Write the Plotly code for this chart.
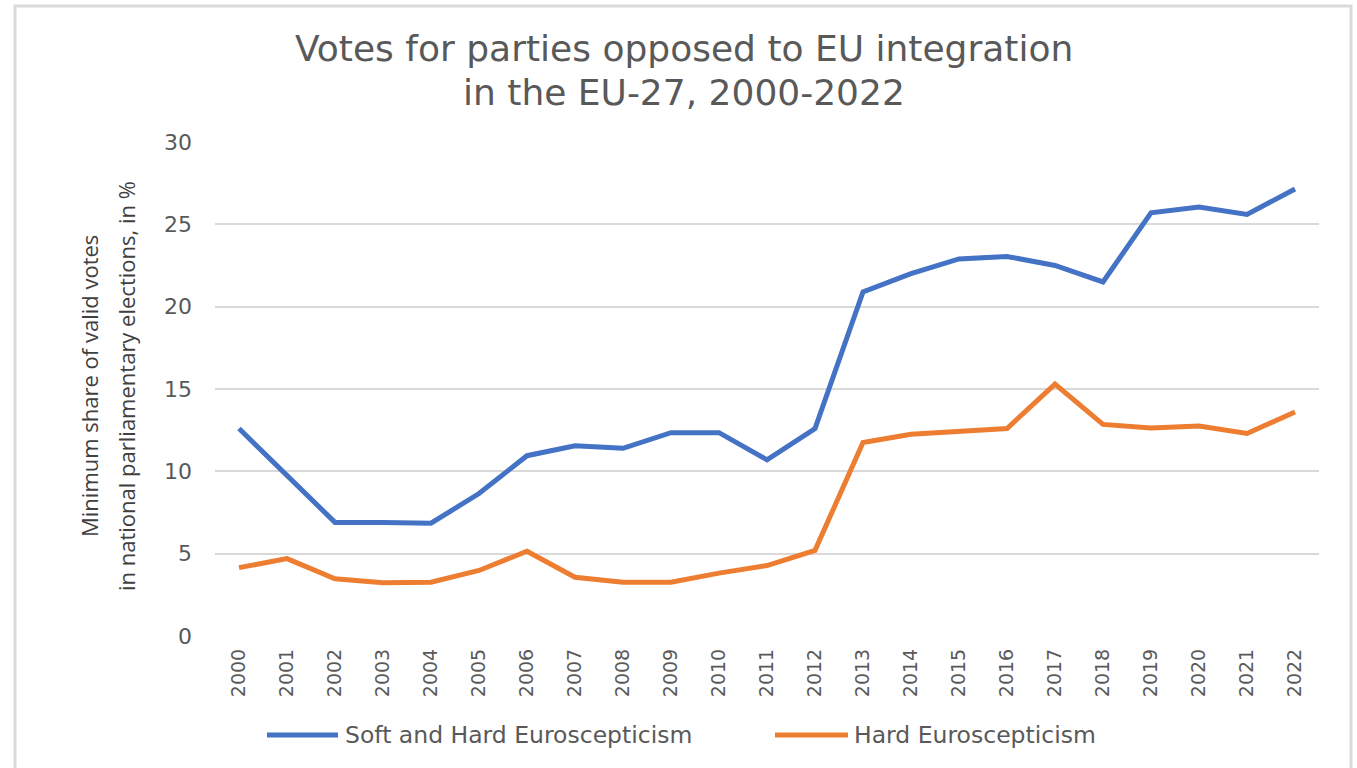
import plotly.graph_objects as go

# Data: minimum share of valid votes (%) for Eurosceptic parties, EU-27
years = [str(y) for y in range(2000, 2023)]
soft_and_hard = [12.6, 9.7, 6.9, 6.9, 6.85, 8.65, 10.95, 11.55, 11.4, 12.35, 12.35, 10.7,
                 12.6, 20.9, 22.0, 22.9, 23.05, 22.5, 21.5, 25.7, 26.05, 25.6, 27.15]
hard_only = [4.15, 4.7, 3.47, 3.23, 3.27, 3.98, 5.15, 3.57, 3.27, 3.27, 3.82, 4.28,
             5.2, 11.75, 12.25, 12.45, 12.6, 15.3, 12.85, 12.63, 12.75, 12.3, 13.6]
series_names = ["Soft and Hard Euroscepticism", "Hard Euroscepticism"]
title_lines = ["Votes for parties opposed to EU integration", "in the EU-27, 2000-2022"]
ytitle_lines = ["Minimum share of valid votes", "in national parliamentary elections, in %"]
y_ticks = [0, 5, 10, 15, 20, 25, 30]

BLUE = "#4472C4"
ORANGE = "#ED7D31"
TEXT = "#595959"
GRID = "#D9D9D9"
WIDE = "DejaVu Sans"
NARROW = "Open Sans"

W, H = 1357, 768
L, R, T, B = 215, 1319, 142, 636  # plot area in pixels


def px(x):
    return (x - L) / (R - L)


def py(y):
    return (B - y) / (B - T)


fig = go.Figure()
fig.add_trace(go.Scatter(x=years, y=soft_and_hard, mode="lines", name=series_names[0],
                         line=dict(color=BLUE, width=5)))
fig.add_trace(go.Scatter(x=years, y=hard_only, mode="lines", name=series_names[1],
                         line=dict(color=ORANGE, width=5)))

annotations = []
# chart title, one annotation per line
for text, ypix in zip(title_lines, [49, 92]):
    annotations.append(dict(text=text, x=px(684), y=py(ypix), xref="paper", yref="paper",
                            showarrow=False, xanchor="center", yanchor="middle",
                            font=dict(family=WIDE, size=36, color=TEXT)))
# y-axis title, rotated, one annotation per line
for text, xpix in zip(ytitle_lines, [89, 126]):
    annotations.append(dict(text=text, x=px(xpix), y=py(386), xref="paper", yref="paper",
                            showarrow=False, textangle=-90, xanchor="center", yanchor="middle",
                            font=dict(family=NARROW, size=22, color="#404040")))

shapes = [
    # outer frame
    dict(type="rect", xref="paper", yref="paper", x0=px(15), x1=px(1351), y0=py(780), y1=py(6),
         line=dict(color="#DADADA", width=3), fillcolor="rgba(0,0,0,0)", layer="below"),
]

# legend drawn as line samples with labels
legend_items = [(267, 338, 343, BLUE, series_names[0]), (775, 848, 852, ORANGE, series_names[1])]
for x0, x1, xt, col, name in legend_items:
    shapes.append(dict(type="line", xref="paper", yref="paper", x0=px(x0), x1=px(x1),
                       y0=py(735), y1=py(735), line=dict(color=col, width=5)))
    annotations.append(dict(text=name, x=px(xt), y=py(735), xref="paper", yref="paper",
                            showarrow=False, xanchor="left", yanchor="middle",
                            font=dict(family=WIDE, size=23.5, color=TEXT)))

fig.update_layout(
    width=W, height=H,
    margin=dict(l=L, r=W - R, t=T, b=H - B, pad=0),
    paper_bgcolor="white", plot_bgcolor="white",
    showlegend=False,
    annotations=annotations,
    shapes=shapes,
    xaxis=dict(type="category", range=[-0.5, len(years) - 0.5], tickangle=-90,
               showgrid=False, showline=False, zeroline=False, ticks="",
               tickfont=dict(family=WIDE, size=19, color=TEXT), ticklabelstandoff=8),
    yaxis=dict(range=[0, 30], tickvals=y_ticks, showgrid=True, gridcolor=GRID, gridwidth=2,
               zeroline=False, showline=False, ticks="",
               tickfont=dict(family=WIDE, size=22, color=TEXT), ticklabelstandoff=22),
)

fig.write_html("out.html")
